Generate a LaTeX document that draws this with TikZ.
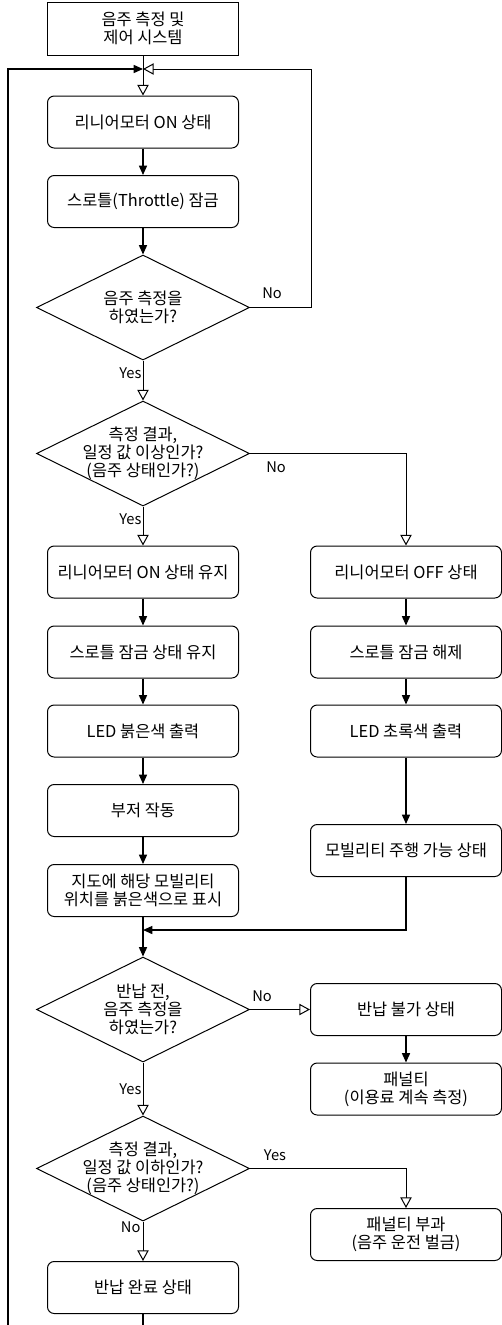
\documentclass[tikz,border=0pt]{standalone}
\usepackage{fontspec}
\setmainfont{Noto Sans CJK KR}
\usetikzlibrary{shapes.geometric,arrows.meta}
\begin{document}
\begin{tikzpicture}[x=0.75pt,y=-0.75pt,
  txt/.style={align=center, font=\fontsize{12.3}{13.5}\selectfont, inner sep=1pt},
  box/.style={txt, draw, line width=0.75pt, rounded corners=5pt, minimum width=143.25pt, minimum height=39pt},
  topbox/.style={box, rounded corners=0pt, minimum height=39.75pt},
  dec/.style={draw, line width=0.75pt, diamond, minimum width=159.75pt, minimum height=78.75pt, inner sep=0pt},
  lab/.style={font=\fontsize{11}{12}\selectfont, inner sep=1pt},
  fa/.style={-{Triangle[length=7pt,width=6pt]}, line width=1.1pt},
  oa/.style={-{Triangle[open,length=8pt,width=8.5pt,fill=white]}, line width=0.75pt},
]
\useasboundingbox (0,0) rectangle (502,1325);

% nodes
\node[topbox] (top) at (143,28.5) {음주 측정 및\\제어 시스템};
\node[box] (b1) at (143,122) {리니어모터 ON 상태};
\node[box] (b2) at (143,201.5) {스로틀(Throttle) 잠금};
\node[dec] (d1) at (143,307.5) {};
\node[txt] (d1t) at (d1) {음주 측정을\\하였는가?};
\node[dec] (d2) at (143,453.5) {};
\node[txt] (d2t) at (d2) {측정 결과,\\일정 값 이상인가?\\(음주 상태인가?)};

\node[box] (L1) at (143,572) {리니어모터 ON 상태 유지};
\node[box] (L2) at (143,652) {스로틀 잠금 상태 유지};
\node[box] (L3) at (143,731) {LED 붉은색 출력};
\node[box] (L4) at (143,810.5) {부저 작동};
\node[box] (L5) at (143,890.5) {지도에 해당 모빌리티\\위치를 붉은색으로 표시};

\node[box] (R1) at (406,572) {리니어모터 OFF 상태};
\node[box] (R2) at (406,652) {스로틀 잠금 해제};
\node[box] (R3) at (406,731) {LED 초록색 출력};
\node[box] (R4) at (406,850.5) {모빌리티 주행 가능 상태};

\node[dec] (d3) at (143,1009.5) {};
\node[txt] (d3t) at (d3) {반납 전,\\음주 측정을\\하였는가?};
\node[box] (R5) at (406,1009.5) {반납 불가 상태};
\node[box] (R6) at (406,1089) {패널티\\(이용료 계속 측정)};

\node[dec] (d4) at (143,1168.5) {};
\node[txt] (d4t) at (d4) {측정 결과,\\일정 값 이하인가?\\(음주 상태인가?)};
\node[box] (R7) at (406,1234.5) {패널티 부과\\(음주 운전 벌금)};
\node[box] (L6) at (143,1287.5) {반납 완료 상태};

% coordinates
\coordinate (j1) at (143,69);
\coordinate (j2) at (143,930);
\coordinate (rt) at (311,69);
\coordinate (lft) at (8,69);

% labels
\node[lab] (n1) at (272,293) {No};
\node[lab, anchor=east] (y1) at (143,373) {Yes};
\node[lab] (n2) at (276,467) {No};
\node[lab, anchor=east] (y2) at (143,519) {Yes};
\node[lab] (n3) at (262,996) {No};
\node[lab, anchor=east] (y3) at (143,1089) {Yes};
\node[lab] (y4) at (275,1155) {Yes};
\node[lab, anchor=east] (n4) at (142,1227) {No};

% connectors
\draw[oa] (top.south) -- (b1.north);
\draw[fa] (b1) -- (b2);
\draw[fa] (b2.south) -- (d1.north);
\draw[oa] (d1.east) -| (rt) -- (j1);
\draw[oa] (d1.south) -- (d2.north);
\draw[oa] (d2.east) -| (R1.north);
\draw[oa] (d2.south) -- (L1.north);
\draw[fa] (L1) -- (L2);
\draw[fa] (L2) -- (L3);
\draw[fa] (L3) -- (L4);
\draw[fa] (L4) -- (L5);
\draw[fa] (R1) -- (R2);
\draw[fa] (R2) -- (R3);
\draw[fa] (R3) -- (R4);
\draw[fa] (R4.south) |- (j2);
\draw[fa] (L5.south) -- (d3.north);
\draw[oa] (d3.east) -- (R5.west);
\draw[fa] (R5) -- (R6);
\draw[oa] (d3.south) -- (d4.north);
\draw[oa] (d4.east) -| (R7.north);
\draw[oa] (d4.south) -- (L6.north);
\draw[fa] (L6.south) -- ++(0,40) -| (lft) -- (j1);
\end{tikzpicture}
\end{document}
